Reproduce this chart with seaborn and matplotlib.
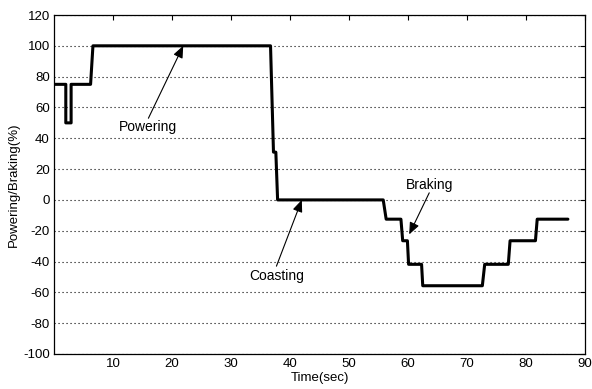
import matplotlib
matplotlib.use("Agg")
import matplotlib.pyplot as plt
import seaborn as sns
import pandas as pd

# Step-profile breakpoints
time_s = [0, 2.0, 2.0, 2.9, 2.9, 6.2, 6.6, 36.7, 37.2, 37.6, 37.9, 55.8, 56.3,
          58.8, 59.1, 59.9, 60.1, 62.3, 62.5, 72.6, 73.0, 77.0, 77.3, 81.6, 81.9, 87.1]
power_pct = [75, 75, 50, 50, 75, 75, 100, 100, 31, 31, 0, 0, -12.5,
             -12.5, -26.5, -26.5, -41.8, -41.8, -55.7, -55.7, -41.8, -41.8, -26.5, -26.5, -12.5, -12.5]

x_ticks = [10, 20, 30, 40, 50, 60, 70, 80, 90]
y_ticks = [-100, -80, -60, -40, -20, 0, 20, 40, 60, 80, 100, 120]

ann_labels = ["Powering", "Coasting", "Braking"]
ann_text_xy = [(15.9, 47), (37.7, -49.5), (63.7, 10)]
ann_tail_xy = [(16.0, 53), (37.7, -43), (63.6, 4.6)]
ann_tip_xy = [(21.9, 100), (42.0, 0), (60.2, -22.4)]

sns.set_theme(style="white")
plt.rcParams["font.family"] = ["Liberation Sans", "DejaVu Sans"]
plt.rcParams["axes.unicode_minus"] = False

fig = plt.figure(figsize=(5.92, 3.89), dpi=100)
ax = fig.add_axes([54 / 592, 1 - 354 / 389, (585 - 54) / 592, (354 - 15) / 389])

df = pd.DataFrame({"t": time_s, "p": power_pct})
sns.lineplot(data=df, x="t", y="p", sort=False, estimator=None, color="black",
             linewidth=2.2, ax=ax)

ax.set_xlim(0, 90)
ax.set_ylim(-100, 120)
ax.set_xticks(x_ticks)
ax.set_yticks(y_ticks)
ax.tick_params(direction="in", top=True, right=True, length=3.5, width=0.8,
               labelsize=9.5, colors="black", pad=3)
for s in ax.spines.values():
    s.set_color("black")
    s.set_linewidth(0.9)
ax.yaxis.grid(True, color="black", linestyle=(0, (1, 2.6)), linewidth=0.8)
ax.xaxis.grid(False)
ax.set_axisbelow(True)

ax.set_xlabel("Time(sec)", fontsize=9.5, labelpad=1, color="black")
ax.set_ylabel("Powering/Braking(%)", fontsize=9.5, labelpad=2, color="black")

for lab, txy, tail, tip in zip(ann_labels, ann_text_xy, ann_tail_xy, ann_tip_xy):
    ax.text(txy[0], txy[1], lab, ha="center", va="center", fontsize=10, color="black")
    ax.annotate("", xy=tip, xytext=tail,
                arrowprops=dict(arrowstyle="-|>,head_length=0.6,head_width=0.25",
                                color="black", lw=0.8, shrinkA=0, shrinkB=0))

fig.savefig("out.png", dpi=100)
